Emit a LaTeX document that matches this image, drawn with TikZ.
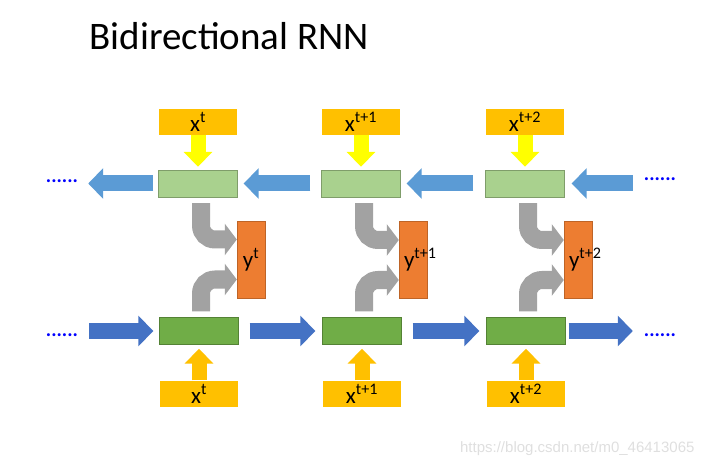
\documentclass[tikz,border=0pt]{standalone}
\usepackage{fontspec}
\setmainfont{Carlito}
\newfontfamily\wmfont{Liberation Sans}
\usetikzlibrary{arrows.meta}

\definecolor{xorange}{HTML}{FFC000}
\definecolor{hlight}{HTML}{A9D18E}
\definecolor{hdark}{HTML}{70AD47}
\definecolor{blight}{HTML}{5B9BD5}
\definecolor{bdark}{HTML}{4472C4}
\definecolor{yorange}{HTML}{ED7D31}
\definecolor{turngray}{HTML}{A2A2A2}
\definecolor{inyellow}{HTML}{FFFF00}

% y label that runs out of its box on the right
\newcommand{\ylab}[1]{\hspace*{-9pt}\makebox[0pt][l]{y\textsuperscript{#1}}\hspace*{9pt}}

\begin{document}
\begin{tikzpicture}[x=1pt, y=-1pt, font=\fontsize{23}{26}\selectfont,
    xbox/.style = {fill=xorange, draw=white, minimum width=79pt, minimum height=27pt, inner sep=0pt},
    hbox/.style = {draw=#1!75!black, fill=#1, minimum width=79pt, minimum height=27pt, inner sep=0pt},
    ybox/.style = {draw=yorange!80!black, fill=yorange, minimum width=28pt, minimum height=77pt, inner sep=0pt},
    moredots/.style = {text=blue, font=\fontsize{20}{20}\selectfont\bfseries, inner sep=0pt},
    blk/.style = {line width=16pt, -{Triangle[width=30pt, length=15pt]}},
    inarrow/.style = {line width=15pt, -{Triangle[width=28pt, length=15pt]}},
    grayturn/.style = {draw=turngray, line width=18pt, rounded corners=14pt, -{Triangle[width=31pt, length=12pt]}}]
    \useasboundingbox (0,0) rectangle (705,468);

    \node[anchor=base west, font=\fontsize{39}{43}\selectfont] (title) at (86,50) {Bidirectional RNN};

    % backward row
    \node[hbox=hlight] (hb1) at (198,183.5) {};
    \node[hbox=hlight] (hb2) at (361,183.5) {};
    \node[hbox=hlight] (hb3) at (525,183.5) {};
    \node[xbox] (xt1) [above of=hb1, node distance=62pt] {x\textsuperscript{t}};
    \node[xbox] (xt2) [above of=hb2, node distance=62pt] {x\textsuperscript{t+1}};
    \node[xbox] (xt3) [above of=hb3, node distance=62pt] {x\textsuperscript{t+2}};

    % forward row
    \node[hbox=hdark] (hf1) at (199,331) {};
    \node[hbox=hdark] (hf2) at (362,331) {};
    \node[hbox=hdark] (hf3) at (526,331) {};
    \node[xbox] (xb1) [below of=hf1, node distance=63pt] {x\textsuperscript{t}};
    \node[xbox] (xb2) [below of=hf2, node distance=63pt] {x\textsuperscript{t+1}};
    \node[xbox] (xb3) [below of=hf3, node distance=63pt] {x\textsuperscript{t+2}};

    % outputs
    \node[ybox] (y1) at (251,259.5) {y\textsuperscript{t}};
    \node[ybox] (y2) at (413,260) {\ylab{t+1}};
    \node[ybox] (y3) at (578,260) {\ylab{t+2}};

    \node[moredots] (dtl) at (62,181) {......};
    \node[moredots] (dtr) at (660,179) {......};
    \node[moredots] (dbl) at (62,335) {......};
    \node[moredots] (dbr) at (660,335) {......};

    % inputs
    \draw[inarrow, inyellow, shorten >=3pt] (xt1) -- (hb1);
    \draw[inarrow, inyellow, shorten >=3pt] (xt2) -- (hb2);
    \draw[inarrow, inyellow, shorten >=3pt] (xt3) -- (hb3);
    \draw[inarrow, xorange, shorten >=4pt] (xb1) -- (hf1);
    \draw[inarrow, xorange, shorten >=4pt] (xb2) -- (hf2);
    \draw[inarrow, xorange, shorten >=4pt] (xb3) -- (hf3);

    % backward links
    \draw[blk, blight, shorten <=5pt, shorten >=10pt] (hb1.west) -- (hb1.west -| dtl.east);
    \draw[blk, blight, shorten <=11pt, shorten >=6pt] (hb2.west) -- (hb1.east);
    \draw[blk, blight, shorten <=12pt, shorten >=6pt] (hb3.west) -- (hb2.east);
    \draw[blk, blight, shorten <=11pt, shorten >=7pt] (hb3.east -| dtr.west) -- (hb3.east);

    % forward links
    \draw[blk, bdark, shorten <=11pt, shorten >=6pt] (hf1.west -| dbl.east) -- (hf1.west);
    \draw[blk, bdark, shorten <=11pt, shorten >=7pt] (hf1.east) -- (hf2.west);
    \draw[blk, bdark, shorten <=11pt, shorten >=7pt] (hf2.east) -- (hf3.west);
    \draw[blk, bdark, shorten <=3pt, shorten >=11pt] (hf3.east) -- (hf3.east -| dbr.west);

    % into the outputs
    \draw[grayturn] ([xshift=3pt, yshift=-6pt]hb1.south) |- ([yshift=20pt]y1.west);
    \draw[grayturn] ([xshift=2pt, yshift=6pt]hf1.north) |- ([yshift=-20pt]y1.west);
    \draw[grayturn] ([xshift=3pt, yshift=-6pt]hb2.south) |- ([yshift=20pt]y2.west);
    \draw[grayturn] ([xshift=2pt, yshift=6pt]hf2.north) |- ([yshift=-20pt]y2.west);
    \draw[grayturn] ([xshift=3pt, yshift=-6pt]hb3.south) |- ([yshift=20pt]y3.west);
    \draw[grayturn] ([xshift=2pt, yshift=6pt]hf3.north) |- ([yshift=-20pt]y3.west);

    \node[anchor=east, text=gray!25, font=\wmfont\fontsize{15}{15}\selectfont] (wm) at (698,449) {https://blog.csdn.net/m0\_46413065};
\end{tikzpicture}
\end{document}
